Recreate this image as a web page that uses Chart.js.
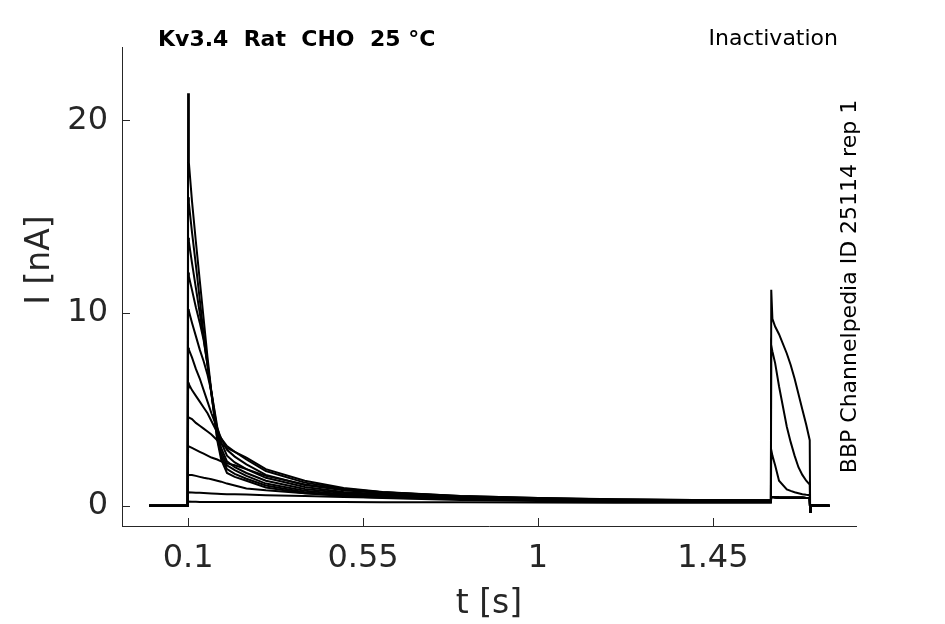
<!DOCTYPE html>
<html>
<head>
<meta charset="utf-8">
<script src="https://cdn.jsdelivr.net/npm/chart.js@4/dist/chart.umd.min.js"></script>
<style>
  html, body { margin: 0; padding: 0; background: #fff; }
  #wrap { width: 945px; height: 624px; position: relative; }
</style>
</head>
<body>
<div id="wrap"><canvas id="traceChart"></canvas></div>
<script>
// sample times [s] shared by every sweep
const tSweep = [0, 0.099, 0.1, 0.102, 0.11, 0.12, 0.13, 0.14, 0.15, 0.16, 0.175, 0.185, 0.2, 0.22,
                0.25, 0.3, 0.4, 0.5, 0.6, 0.8, 1.0, 1.2, 1.4, 1.599,
                1.6, 1.603, 1.61, 1.62, 1.64, 1.65, 1.66, 1.67, 1.68, 1.69, 1.699, 1.7, 1.702, 1.75];

// current [nA] per sweep (smallest prepulse current first)
const sweep01 = [0, 0, 0.22, 0.22, 0.21, 0.21, 0.2, 0.2, 0.2, 0.2, 0.2, 0.2, 0.2, 0.2,
                 0.2, 0.2, 0.2, 0.2, 0.18, 0.18, 0.17, 0.16, 0.15, 0.15,
                 11.2, 9.7, 9.3, 8.9, 7.9, 7.3, 6.6, 5.8, 5.0, 4.2, 3.4, -0.3, 0.02, 0];
const sweep02 = [0, 0, 0.7, 0.7, 0.69, 0.68, 0.67, 0.66, 0.65, 0.64, 0.62, 0.61, 0.6, 0.6,
                 0.58, 0.55, 0.5, 0.45, 0.42, 0.36, 0.32, 0.3, 0.28, 0.26,
                 8.3, 8.0, 7.4, 6.2, 4.1, 3.3, 2.6, 2.0, 1.6, 1.3, 1.1, -0.3, 0.02, 0];
const sweep03 = [0, 0, 1.6, 1.6, 1.6, 1.55, 1.5, 1.45, 1.42, 1.38, 1.3, 1.25, 1.15, 1.05,
                 0.9, 0.8, 0.65, 0.55, 0.5, 0.4, 0.34, 0.3, 0.28, 0.26,
                 2.9, 2.6, 2.1, 1.3, 0.85, 0.77, 0.7, 0.65, 0.6, 0.57, 0.55, -0.3, 0.02, 0];
const sweep04 = [0, 0, 3.1, 3.1, 3.0, 2.9, 2.8, 2.7, 2.6, 2.5, 2.4, 2.3, 2.2, 2.1,
                 1.9, 1.55, 1.1, 0.85, 0.7, 0.5, 0.4, 0.34, 0.3, 0.28,
                 0.45, 0.45, 0.44, 0.43, 0.42, 0.42, 0.42, 0.41, 0.41, 0.4, 0.4, -0.3, 0.02, 0];
const sweep05 = [0, 0, 4.6, 4.6, 4.5, 4.3, 4.15, 4.0, 3.85, 3.7, 3.4, 3.2, 3.0, 2.8,
                 2.5, 1.9, 1.3, 0.92, 0.72, 0.5, 0.4, 0.33, 0.3, 0.28,
                 0.45, 0.45, 0.44, 0.43, 0.42, 0.42, 0.42, 0.41, 0.41, 0.4, 0.4, -0.3, 0.02, 0];
const sweep06 = [0, 0, 6.4, 6.3, 6.0, 5.7, 5.4, 5.1, 4.8, 4.4, 3.8, 3.5, 3.1, 2.8,
                 2.4, 1.8, 1.2, 0.88, 0.7, 0.48, 0.38, 0.32, 0.28, 0.27,
                 0.45, 0.45, 0.44, 0.43, 0.42, 0.42, 0.42, 0.41, 0.41, 0.4, 0.4, -0.3, 0.02, 0];
const sweep07 = [0, 0, 8.2, 8.1, 7.7, 7.1, 6.6, 6.0, 5.4, 4.8, 4.0, 3.5, 2.9, 2.55,
                 2.15, 1.6, 1.08, 0.8, 0.65, 0.45, 0.36, 0.3, 0.27, 0.25,
                 0.45, 0.45, 0.44, 0.43, 0.42, 0.42, 0.42, 0.41, 0.41, 0.4, 0.4, -0.3, 0.02, 0];
const sweep08 = [0, 0, 10.2, 10.1, 9.5, 8.8, 8.1, 7.5, 6.8, 5.9, 4.1, 3.3, 2.6, 2.25,
                 1.9, 1.45, 0.97, 0.72, 0.6, 0.42, 0.34, 0.28, 0.25, 0.24,
                 0.45, 0.45, 0.44, 0.43, 0.42, 0.42, 0.42, 0.41, 0.41, 0.4, 0.4, -0.3, 0.02, 0];
const sweep09 = [0, 0, 12.1, 11.9, 11.2, 10.3, 9.5, 8.6, 7.3, 5.9, 3.9, 3.0, 2.3, 2.0,
                 1.7, 1.3, 0.87, 0.66, 0.55, 0.4, 0.32, 0.27, 0.24, 0.23,
                 0.45, 0.45, 0.44, 0.43, 0.42, 0.42, 0.42, 0.41, 0.41, 0.4, 0.4, -0.3, 0.02, 0];
const sweep10 = [0, 0, 13.9, 13.7, 12.6, 11.3, 10.0, 8.7, 7.3, 5.8, 3.7, 2.8, 2.1, 1.85,
                 1.55, 1.15, 0.78, 0.6, 0.5, 0.37, 0.3, 0.25, 0.22, 0.22,
                 0.45, 0.45, 0.44, 0.43, 0.42, 0.42, 0.42, 0.41, 0.41, 0.4, 0.4, -0.3, 0.02, 0];
const sweep11 = [0, 0, 16.0, 15.7, 14.2, 12.5, 10.7, 8.9, 7.4, 5.8, 3.5, 2.6, 1.9, 1.65,
                 1.4, 1.05, 0.7, 0.55, 0.45, 0.35, 0.28, 0.22, 0.2, 0.2,
                 0.45, 0.45, 0.44, 0.43, 0.42, 0.42, 0.42, 0.41, 0.41, 0.4, 0.4, -0.3, 0.02, 0];
const sweep12 = [0, 0, 21.4, 17.8, 15.8, 13.7, 11.7, 9.7, 7.7, 5.9, 3.4, 2.4, 1.7, 1.5,
                 1.3, 0.95, 0.65, 0.5, 0.4, 0.3, 0.25, 0.2, 0.2, 0.2,
                 0.45, 0.45, 0.44, 0.43, 0.42, 0.42, 0.42, 0.41, 0.41, 0.4, 0.4, -0.3, 0.02, 0];

const sweeps = [sweep01, sweep02, sweep03, sweep04, sweep05, sweep06,
                sweep07, sweep08, sweep09, sweep10, sweep11, sweep12];

const xTicks = [0.1, 0.55, 1, 1.45];
const yTicks = [0, 10, 20];

const titleText = 'Kv3.4  Rat  CHO  25 \u00B0C';
const protocolText = 'Inactivation';
const sourceText = 'BBP Channelpedia ID 25114 rep 1';
const xLabel = 't [s]';
const yLabel = 'I [nA]';

const axisColor = '#262626';
const fontFamily = '"DejaVu Sans", "Liberation Sans", sans-serif';

const datasets = sweeps.map(vals => ({
    data: tSweep.map((t, i) => ({ x: t, y: vals[i] })),
    borderColor: '#000',
    borderWidth: 2,
    pointRadius: 0,
    showLine: true,
    tension: 0
}));

// inward tick marks + the free-standing texts, as in the matlab figure
const decorPlugin = {
    id: 'decor',
    afterDraw(chart) {
        const { ctx, chartArea } = chart;
        const xs = chart.scales.x, ys = chart.scales.y;
        ctx.save();
        ctx.strokeStyle = axisColor;
        ctx.lineWidth = 1;
        ctx.beginPath();
        xTicks.forEach(v => {
            const px = Math.round(xs.getPixelForValue(v)) + 0.5;
            ctx.moveTo(px, chartArea.bottom);
            ctx.lineTo(px, chartArea.bottom - 8);
        });
        yTicks.forEach(v => {
            const py = Math.round(ys.getPixelForValue(v)) + 0.5;
            ctx.moveTo(chartArea.left, py);
            ctx.lineTo(chartArea.left + 8, py);
        });
        ctx.stroke();

        ctx.fillStyle = '#000';
        ctx.textBaseline = 'middle';
        ctx.font = 'bold 22px ' + fontFamily;
        ctx.textAlign = 'left';
        ctx.fillText(titleText, 158, 40);
        ctx.font = '22px ' + fontFamily;
        ctx.textAlign = 'right';
        ctx.fillText(protocolText, 838, 39);

        ctx.save();
        ctx.translate(850, (chartArea.top + chartArea.bottom) / 2);
        ctx.rotate(-Math.PI / 2);
        ctx.textAlign = 'center';
        ctx.fillText(sourceText, 0, 0);
        ctx.restore();

        ctx.fillStyle = axisColor;
        ctx.font = '33px ' + fontFamily;
        ctx.textAlign = 'center';
        ctx.fillText(xLabel, (chartArea.left + chartArea.right) / 2, 604);
        ctx.save();
        ctx.translate(40, 260);
        ctx.rotate(-Math.PI / 2);
        ctx.fillText(yLabel, 0, 0);
        ctx.restore();
        ctx.restore();
    }
};

new Chart(document.getElementById('traceChart'), {
    type: 'scatter',
    data: { datasets },
    options: {
        responsive: true,
        maintainAspectRatio: false,
        animation: false,
        layout: { padding: { top: 47, right: 89, left: 0, bottom: 0 } },
        plugins: {
            legend: { display: false },
            tooltip: { enabled: false }
        },
        scales: {
            x: {
                type: 'linear',
                min: -0.07,
                max: 1.818,
                grid: { display: false, drawTicks: false },
                border: { display: true, color: axisColor, width: 1 },
                afterBuildTicks: scale => { scale.ticks = xTicks.map(v => ({ value: v })); },
                afterFit: scale => { scale.height = 98; },
                ticks: {
                    color: axisColor,
                    padding: 13,
                    maxRotation: 0,
                    font: { family: fontFamily, size: 32 },
                    callback: v => String(v)
                }
            },
            y: {
                type: 'linear',
                min: -1.05,
                max: 23.8,
                grid: { display: false, drawTicks: false },
                border: { display: true, color: axisColor, width: 1 },
                afterBuildTicks: scale => { scale.ticks = yTicks.map(v => ({ value: v })); },
                afterFit: scale => { scale.width = 122; },
                ticks: {
                    color: axisColor,
                    padding: 14,
                    font: { family: fontFamily, size: 32 },
                    callback: v => String(v)
                }
            }
        }
    },
    plugins: [decorPlugin]
});
</script>
</body>
</html>
